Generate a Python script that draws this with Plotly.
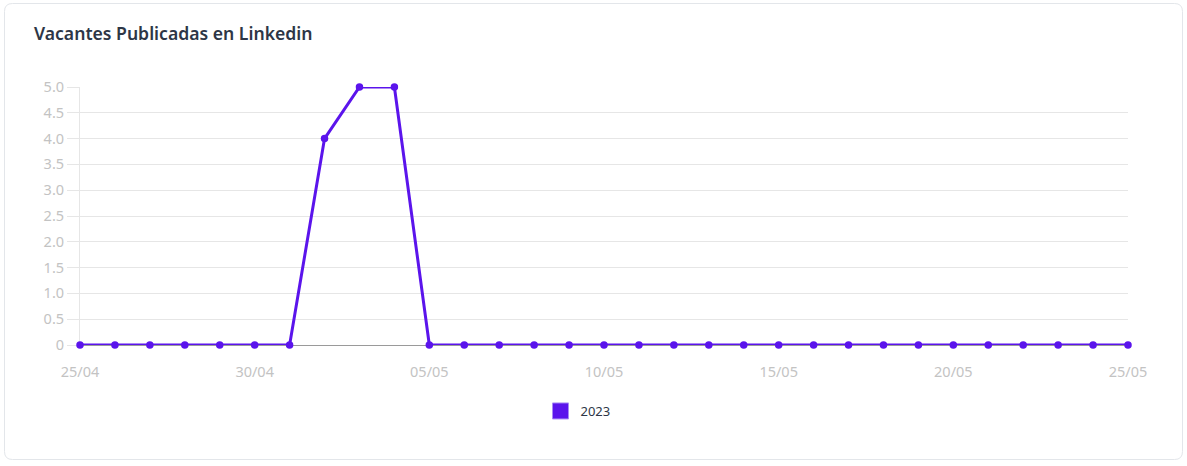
import plotly.graph_objects as go
import pandas as pd

dates = pd.date_range("2023-04-25", "2023-05-25", freq="D")
values = [0, 0, 0, 0, 0, 0, 0, 4, 5, 5, 0, 0, 0, 0, 0, 0, 0, 0, 0, 0,
          0, 0, 0, 0, 0, 0, 0, 0, 0, 0, 0]
series_name = "2023"
y_tickvals = [0, 0.5, 1, 1.5, 2, 2.5, 3, 3.5, 4, 4.5, 5]
y_ticktext = ["0", "0.5", "1.0", "1.5", "2.0", "2.5", "3.0", "3.5", "4.0", "4.5", "5.0"]
x_tickvals = pd.date_range("2023-04-25", "2023-05-25", freq="5D")

W, H = 1187, 466
L, R, T, B = 80, 1128, 87, 345
purple = "#5b14ec"
font_family = "Noto Sans, Lato, sans-serif"

fig = go.Figure()
# line (clipped to plot area like the original)
fig.add_trace(go.Scatter(
    x=dates, y=values, mode="lines",
    line=dict(color=purple, width=3),
    showlegend=False, cliponaxis=True, name=series_name, hoverinfo="skip",
))
# points (not clipped)
fig.add_trace(go.Scatter(
    x=dates, y=values, mode="markers",
    marker=dict(color=purple, size=7.5),
    showlegend=False, cliponaxis=False, name=series_name,
))
fig.add_trace(go.Scatter(
    x=[None], y=[None], mode="markers", name=series_name,
    marker=dict(symbol="square", size=16, color=purple,
                line=dict(color="#a98bf5", width=1)),
    showlegend=True,
))

def px_x(p):
    return (p - L) / (R - L)

def px_y(p):
    return (B - p) / (B - T)

# card border (rounded rectangle)
x0, x1, y0, y1, r = 4.5, 1182.5, 3.5, 459.5, 8
path = (f"M {px_x(x0 + r)},{px_y(y0)} L {px_x(x1 - r)},{px_y(y0)} "
        f"Q {px_x(x1)},{px_y(y0)} {px_x(x1)},{px_y(y0 + r)} "
        f"L {px_x(x1)},{px_y(y1 - r)} Q {px_x(x1)},{px_y(y1)} {px_x(x1 - r)},{px_y(y1)} "
        f"L {px_x(x0 + r)},{px_y(y1)} Q {px_x(x0)},{px_y(y1)} {px_x(x0)},{px_y(y1 - r)} "
        f"L {px_x(x0)},{px_y(y0 + r)} Q {px_x(x0)},{px_y(y0)} {px_x(x0 + r)},{px_y(y0)} Z")
fig.add_shape(type="path", path=path, xref="paper", yref="paper",
              line=dict(color="#e3e6ea", width=1), fillcolor="rgba(0,0,0,0)", layer="below")

fig.update_layout(
    width=W, height=H,
    margin=dict(l=L, r=W - R, t=T, b=H - B, pad=0),
    paper_bgcolor="white", plot_bgcolor="white",
    font=dict(family=font_family, color="#c3c3c3", size=14),
    title=dict(text="Vacantes Publicadas en Linkedin", x=34 / W, xref="container",
               xanchor="left", y=1 - 34 / H, yref="container", yanchor="middle",
               font=dict(family=font_family, size=17.6, color="#2d3646", weight=600)),
    xaxis=dict(range=[dates[0], dates[-1]], tickvals=x_tickvals, tickformat="%d/%m",
               showgrid=False, zeroline=False, showline=False,
               ticks="outside", ticklen=14, tickcolor="rgba(0,0,0,0)",
               tickfont=dict(color="#c3c3c3", size=14.5), layer="below traces"),
    yaxis=dict(range=[0, 5], tickvals=y_tickvals, ticktext=y_ticktext,
               showgrid=True, gridcolor="#e6e6e6", gridwidth=1,
               zeroline=True, zerolinecolor="#9a9a9a", zerolinewidth=1,
               showline=True, linecolor="#e6e6e6", linewidth=1,
               ticks="outside", ticklen=12, tickcolor="#e6e6e6",
               tickfont=dict(color="#c3c3c3", size=14.5), layer="below traces"),
    legend=dict(orientation="h", x=px_x(578), xanchor="center", y=px_y(411),
                yanchor="middle", itemsizing="trace",
                font=dict(family=font_family, color="#2d3646", size=13)),
    showlegend=True,
)

fig.write_html("out.html", config={"displayModeBar": False},
               post_script="document.body.style.margin='0';")
